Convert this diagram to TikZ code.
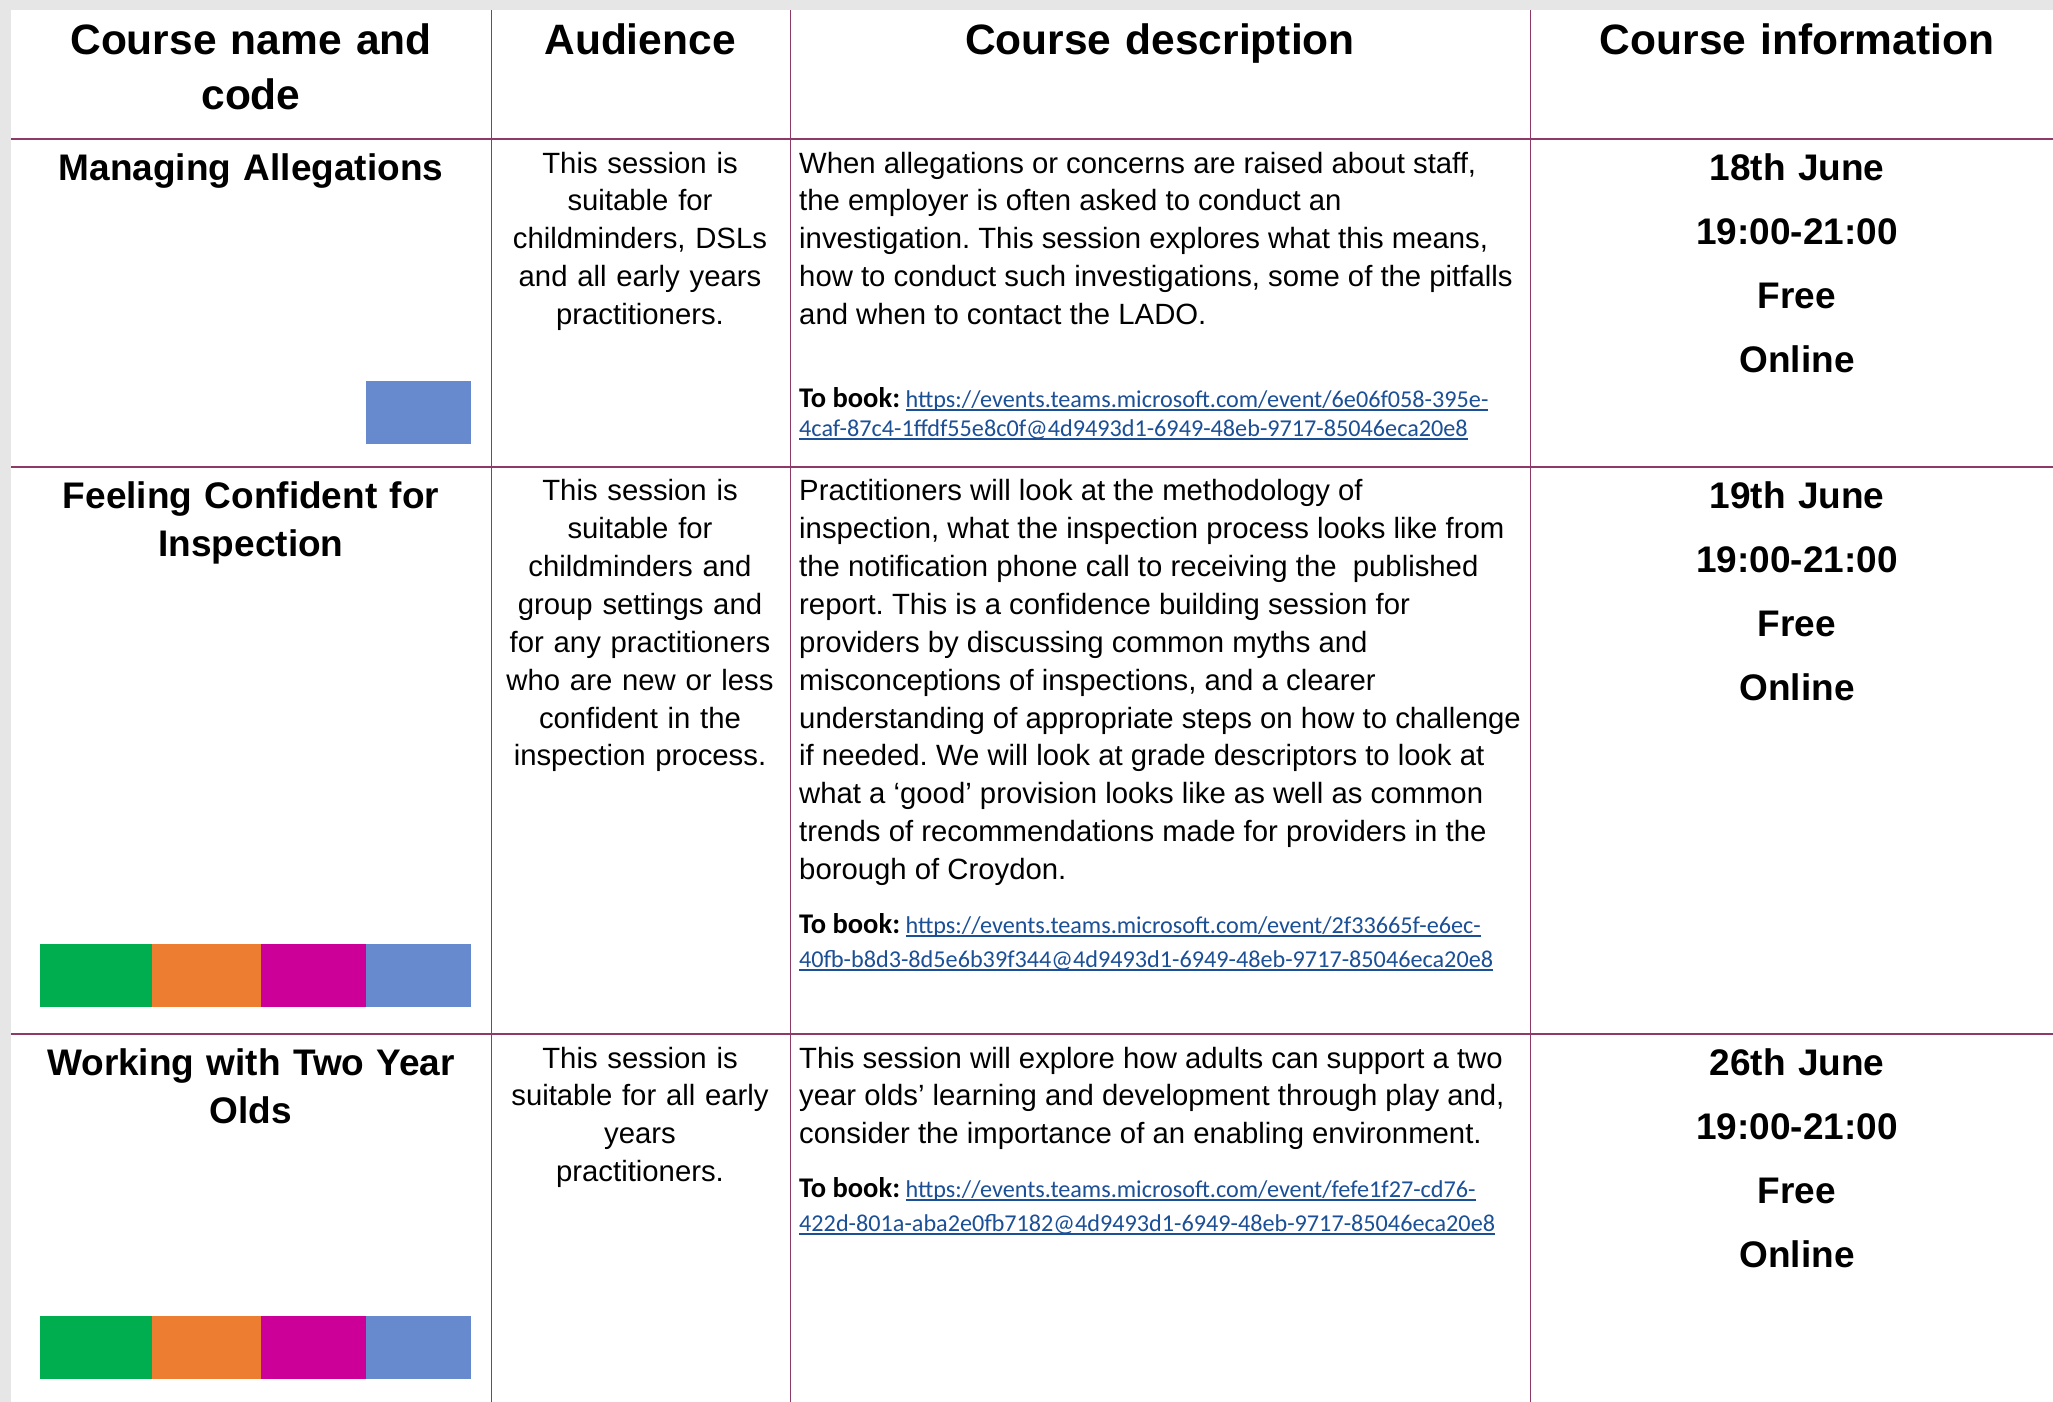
\documentclass[tikz,border=0pt]{standalone}
\usepackage{fontspec}
\setmainfont{Liberation Sans}
\newfontfamily\bookfont{Carlito}
\usepackage{tikz}
\usetikzlibrary{positioning}
\frenchspacing

\definecolor{pagegray}{RGB}{230,230,230}
\definecolor{ruleline}{RGB}{142,58,104}
\definecolor{linkblue}{RGB}{27,79,150}
\definecolor{bargreen}{RGB}{0,173,79}
\definecolor{barorange}{RGB}{237,125,49}
\definecolor{barmagenta}{RGB}{204,0,153}
\definecolor{barblue}{RGB}{103,137,206}

\newsavebox{\linkbox}
\newcommand{\booklink}[1]{\leavevmode\sbox{\linkbox}{\color{linkblue}#1}{\color{linkblue}\rlap{\rule[-3.5pt]{\wd\linkbox}{1.6pt}}}\usebox{\linkbox}}
\newcommand{\tobook}{{\bfseries\fontsize{28.5}{34}\selectfont To book:}}

\begin{document}
\begin{tikzpicture}[x=1pt, y=-1pt,
		headcell/.style={anchor=base, inner sep=0pt, align=center, text width=470pt,
			font=\bfseries\fontsize{42.5}{55}\selectfont},
		coursetitle/.style={anchor=base, inner sep=0pt, align=center, text width=470pt,
			font=\bfseries\fontsize{37}{48}\selectfont},
		audiencecell/.style={anchor=base, inner sep=0pt, align=center, text width=296pt,
			font=\fontsize{29.3}{37.9}\selectfont},
		desccell/.style={anchor=base west, inner sep=0pt, align=flush left, text width=760pt,
			font=\fontsize{29.3}{37.9}\selectfont},
		bookcell/.style={anchor=base west, inner sep=0pt, align=flush left, text width=760pt,
			font=\bookfont\fontsize{24.2}{#1}\selectfont},
		infocell/.style={anchor=base, inner sep=0pt, align=center, text width=500pt,
			font=\bfseries\fontsize{37}{64}\selectfont},
		rowrule/.style={draw=ruleline, line width=1.6pt},
		colrule/.style={draw=ruleline, line width=1pt}
	]
	
	\useasboundingbox (0,0) rectangle (2053,1402);
	\fill[pagegray] (0,0) rectangle (2053,1402);
	\fill[white] (11,10) rectangle (2053,1402);
	
	%rules
	\draw[rowrule] (11,139) -- (2053,139);
	\draw[rowrule] (11,467) -- (2053,467);
	\draw[rowrule] (11,1034) -- (2053,1034);
	\draw[colrule] (491,10) -- (491,1402);
	\draw[colrule] (790,10) -- (790,1402);
	\draw[colrule] (1530,10) -- (1530,1402);
	
	%header
	\node[headcell] (hdname) at (251,55) {Course name and\\code};
	\node[headcell, text width=296pt] (hdaudience) at (640,55) {Audience};
	\node[headcell, text width=730pt] (hddesc) at (1160,55) {Course description};
	\node[headcell, text width=520pt] (hdinfo) at (1797,55) {Course information};
	
	%course names
	\node[coursetitle] (titlealleg) at (251,180) {Managing Allegations};
	\node[coursetitle] (titleinsp) at (251,508) {Feeling Confident for\\Inspection};
	\node[coursetitle] (titletwo) at (251,1075) {Working with Two Year\\Olds};
	
	%colour bars
	\fill[barblue] (366,381) rectangle (471,444);
	
	\fill[bargreen] (40,944) rectangle (152,1007);
	\fill[barorange] (152,944) rectangle (261,1007);
	\fill[barmagenta] (261,944) rectangle (366,1007);
	\fill[barblue] (366,944) rectangle (471,1007);
	
	\fill[bargreen] (40,1316) rectangle (152,1379);
	\fill[barorange] (152,1316) rectangle (261,1379);
	\fill[barmagenta] (261,1316) rectangle (366,1379);
	\fill[barblue] (366,1316) rectangle (471,1379);
	
	%audience
	\node[audiencecell] (audalleg) at (640,173) {This session is\\suitable for\\childminders, DSLs\\and all early years\\practitioners.};
	\node[audiencecell] (audinsp) at (640,500.6) {This session is\\suitable for\\childminders and\\group settings and\\for any practitioners\\who are new or less\\confident in the\\inspection process.};
	\node[audiencecell] (audtwo) at (640,1068) {This session is\\suitable for all early\\years\\practitioners.};
	
	%descriptions
	\node[desccell] (descalleg) at (799,173) {When allegations or concerns are raised about staff,\\the employer is often asked to conduct an\\investigation. This session explores what this means,\\how to conduct such investigations, some of the pitfalls\\and when to contact the LADO.};
	\node[desccell] (descinsp) at (799,500.6) {Practitioners will look at the methodology of\\inspection, what the inspection process looks like from\\the notification phone call to receiving the~ published\\report. This is a confidence building session for\\providers by discussing common myths and\\misconceptions of inspections, and a clearer\\understanding of appropriate steps on how to challenge\\if needed. We will look at grade descriptors to look at\\what a ‘good’ provision looks like as well as common\\trends of recommendations made for providers in the\\borough of Croydon.};
	\node[desccell] (desctwo) at (799,1068) {This session will explore how adults can support a two\\year olds’ learning and development through play and,\\consider the importance of an enabling environment.};
	
	%booking links
	\node[bookcell=29] (bookalleg) at (799,407) {\tobook{} \booklink{https://events.teams.microsoft.com/event/6e06f058-395e-}\\\booklink{4caf-87c4-1ffdf55e8c0f@4d9493d1-6949-48eb-9717-85046eca20e8}};
	\node[bookcell=34] (bookinsp) at (799,933) {\tobook{} \booklink{https://events.teams.microsoft.com/event/2f33665f-e6ec-}\\\booklink{40fb-b8d3-8d5e6b39f344@4d9493d1-6949-48eb-9717-85046eca20e8}};
	\node[bookcell=34] (booktwo) at (799,1197) {\tobook{} \booklink{https://events.teams.microsoft.com/event/fefe1f27-cd76-}\\\booklink{422d-801a-aba2e0fb7182@4d9493d1-6949-48eb-9717-85046eca20e8}};
	
	%course information
	\node[infocell] (infoalleg) at (1797,180) {18th June\\19:00-21:00\\Free\\Online};
	\node[infocell] (infoinsp) at (1797,508) {19th June\\19:00-21:00\\Free\\Online};
	\node[infocell] (infotwo) at (1797,1075) {26th June\\19:00-21:00\\Free\\Online};
\end{tikzpicture}
\end{document}
